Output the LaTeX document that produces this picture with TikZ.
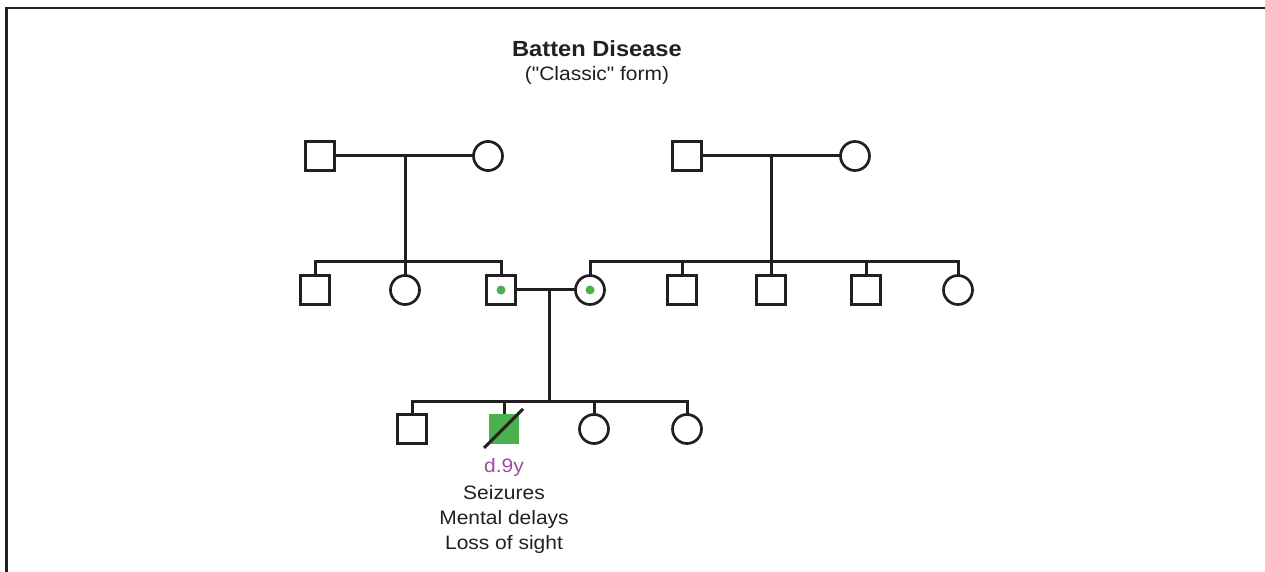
\documentclass[tikz,border=0pt]{standalone}
\usepackage{fontspec}
\setmainfont{Liberation Sans}[Ligatures=TeXOff,FakeStretch=1.08]
\definecolor{ink}{HTML}{231F20}
\definecolor{affgreen}{HTML}{4DB04F}
\definecolor{agepurple}{HTML}{9A4E9E}
\begin{document}
\begin{tikzpicture}[x=1bp,y=-1bp,
  line width=2.7bp, draw=ink,
  male/.style={draw=ink,line width=2.7bp,minimum size=29bp,inner sep=0pt,outer sep=0pt,rectangle,fill=white},
  female/.style={draw=ink,line width=2.7bp,minimum size=29bp,inner sep=0pt,outer sep=0pt,circle,fill=white},
  affected/.style={fill=affgreen,draw=none,minimum size=30bp},
  carrier/.style={path picture={\fill[affgreen] (path picture bounding box.center) circle[radius=4.5bp];}},
  lbl/.style={font=\fontsize{19.5}{25}\selectfont,text=ink,align=center,inner sep=0pt},
  link/.style={draw=ink,line width=3bp}]
\useasboundingbox (0,0) rectangle (1265,572);
% frame
\draw[ink,line width=2.6bp] (6.5,572) -- (6.5,8) -- (1265,8);
% title
\node[lbl,font=\fontsize{22}{26}\selectfont\bfseries,anchor=base] (title) at (597,57) {Batten Disease};
\node[lbl,font=\fontsize{19.5}{24}\selectfont,anchor=base] (subtitle) at (597,81) {("Classic" form)};
% generation I
\node[male] (g1a) at (320,156) {};
\node[female] (g1b) at (488,156) {};
\node[male] (g1c) at (687,156) {};
\node[female] (g1d) at (855,156) {};
\coordinate (m1) at (405,156);
\coordinate (m2) at (771,156);
% generation II
\node[male] (a1) at (315,290) {};
\node[female] (a2) at (405,290) {};
\node[male,carrier] (a3) at (501,290) {};
\node[female,carrier] (b1) at (590,290) {};
\node[male] (b2) at (682,290) {};
\node[male] (b3) at (771,290) {};
\node[male] (b4) at (866,290) {};
\node[female] (b5) at (958,290) {};
\coordinate (sa) at (405,262);
\coordinate (sb) at (771,262);
\coordinate (m3) at (549,290);
% generation III
\node[male] (c1) at (412,429) {};
\node[male,affected] (c2) at (504,429) {};
\node[female] (c3) at (594,429) {};
\node[female] (c4) at (687,429) {};
\coordinate (sc) at (549,401);
% lines
\draw[link] (g1a) -- (g1b);
\draw[link] (g1c) -- (g1d);
\draw[link] (m1) -- (sa);
\draw[link] (m2) -- (sb);
\draw[link] (a1.north) |- (sa) -| (a3.north);
\draw[link] (a2.north) -- (sa);
\draw[link] (b1.north) |- (sb) -| (b5.north);
\draw[link] (b2.north) -- (b2.north |- sb);
\draw[link] (b3.north) -- (sb);
\draw[link] (b4.north) -- (b4.north |- sb);
\draw[link] (a3) -- (b1);
\draw[link] (m3) -- (sc);
\draw[link] (c1.north) |- (sc) -| (c4.north);
\draw[link] (c2.north) -- (c2.north |- sc);
\draw[link] (c3.north) -- (c3.north |- sc);
% deceased mark
\coordinate (d1) at (484,448);
\coordinate (d2) at (523,409);
\draw[link] (d1) -- (d2);
% labels
\node[lbl,text=agepurple,anchor=base] (age) at (504,472) {d.9y};
\node[lbl,anchor=north] (sym) at (504,484) {Seizures\\Mental delays\\Loss of sight};
\end{tikzpicture}
\end{document}
